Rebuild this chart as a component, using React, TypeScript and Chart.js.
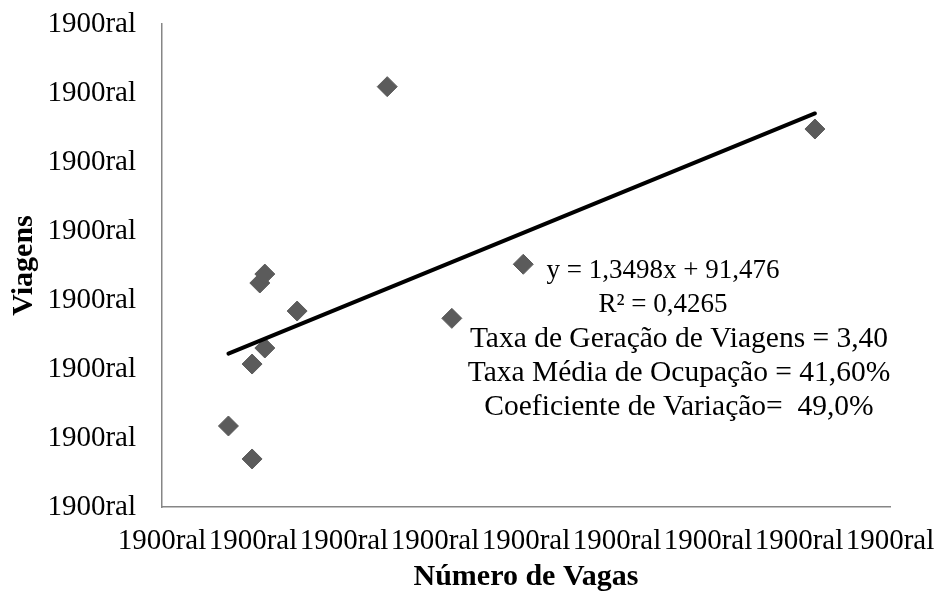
import React, { useEffect, useRef } from "react";
import { Chart, registerables } from "chart.js";

Chart.register(...registerables);

// Data
const vagas = [14.6, 19.8, 19.8, 22.6, 21.5, 22.6, 29.7, 49.5, 63.7, 79.4, 143.5];
const viagens = [58.7, 34.8, 103.6, 115.2, 162.3, 168.8, 142.0, 304.6, 136.7, 175.9, 273.9];
const trendSlope = 1.3498;
const trendIntercept = 91.476;
const tickLabel = "1900ral";
const xTitle = "Número de Vagas";
const yTitle = "Viagens";
const trendLabels = ["y = 1,3498x + 91,476", "R² = 0,4265"];
const infoLabels = [
  "Taxa de Geração de Viagens = 3,40",
  "Taxa Média de Ocupação = 41,60%",
  "Coeficiente de Variação=  49,0%",
];

const SERIF = "'Liberation Serif', 'Times New Roman', serif";

export default function App() {
  const ref = useRef<HTMLCanvasElement | null>(null);

  useEffect(() => {
    document.body.style.margin = "0";
    const canvas = ref.current;
    if (!canvas) return;

    const xMin = Math.min(...vagas);
    const xMax = Math.max(...vagas);
    const trend = [
      { x: xMin, y: trendSlope * xMin + trendIntercept },
      { x: xMax, y: trendSlope * xMax + trendIntercept },
    ];

    const textPlugin = {
      id: "textPlugin",
      afterDatasetsDraw(chart: any) {
        const ctx = chart.ctx;
        ctx.save();
        ctx.fillStyle = "#000";
        ctx.textAlign = "center";
        ctx.textBaseline = "middle";
        ctx.font = `27px ${SERIF}`;
        trendLabels.forEach((t, i) => ctx.fillText(t, 663, 271 + i * 34));
        ctx.font = `29.5px ${SERIF}`;
        infoLabels.forEach((t, i) => ctx.fillText(t, 679, 339 + i * 34));
        ctx.restore();
      },
    };

    const chart = new Chart(canvas, {
      type: "scatter",
      data: {
        datasets: [
          {
            type: "line",
            data: trend,
            borderColor: "#000",
            borderWidth: 4,
            pointRadius: 0,
            borderCapStyle: "round",
            fill: false,
          } as any,
          {
            data: vagas.map((x, i) => ({ x, y: viagens[i] })),
            pointStyle: "rectRot",
            pointRadius: 10,
            pointHoverRadius: 10,
            backgroundColor: "#5b5b5b",
            borderColor: "#5b5b5b",
            borderWidth: 1,
          },
        ],
      },
      options: {
        animation: false,
        responsive: false,
        devicePixelRatio: 1,
        layout: { padding: { top: 24, right: 49, bottom: 2, left: 0 } },
        plugins: { legend: { display: false }, tooltip: { enabled: false } },
        scales: {
          x: {
            type: "linear",
            min: 0,
            max: 160,
            ticks: {
              stepSize: 20,
              callback: () => tickLabel,
              color: "#000",
              font: { family: SERIF, size: 29 },
              padding: 9,
              maxRotation: 0,
              autoSkip: false,
            },
            grid: { display: false },
            border: { display: true, color: "#868686", width: 1.5 },
            title: {
              display: true,
              text: xTitle,
              color: "#000",
              font: { family: SERIF, size: 30, weight: "bold" },
              padding: 4,
            },
            afterFit: (s: any) => {
              s.height = 601 - 507 - 2;
              s.paddingLeft = 0;
              s.paddingRight = 0;
            },
          },
          y: {
            type: "linear",
            min: 0,
            max: 350,
            ticks: {
              stepSize: 50,
              callback: () => tickLabel,
              color: "#000",
              font: { family: SERIF, size: 29 },
              padding: 18,
              autoSkip: false,
            },
            grid: { display: false },
            border: { display: true, color: "#868686", width: 1.5 },
            title: {
              display: true,
              text: yTitle,
              color: "#000",
              font: { family: SERIF, size: 30, weight: "bold" },
              padding: 6,
            },
            afterFit: (s: any) => {
              s.width = 162;
              s.paddingTop = 0;
              s.paddingBottom = 0;
            },
          },
        },
      },
      plugins: [textPlugin],
    } as any);

    return () => chart.destroy();
  }, []);

  return (
    <div style={{ position: "absolute", left: 0, top: 0, width: 939, height: 601, background: "#fff" }}>
      <canvas ref={ref} width={939} height={601} style={{ display: "block" }} />
    </div>
  );
}
